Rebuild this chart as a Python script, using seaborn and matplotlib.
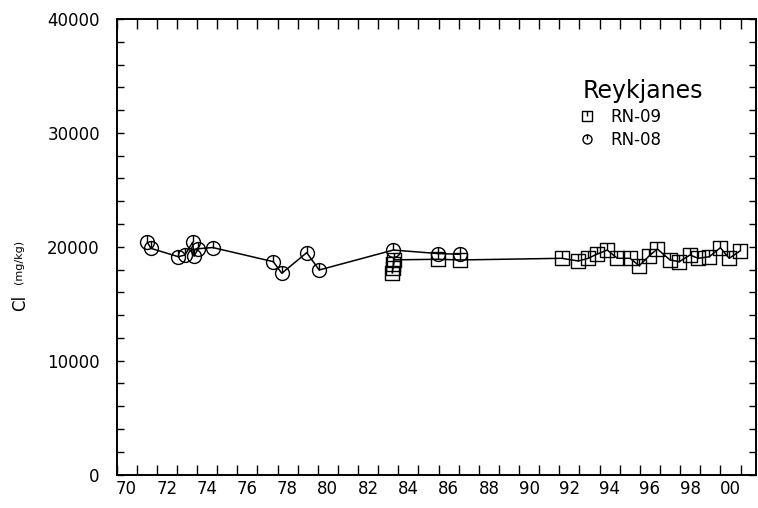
import numpy as np
import pandas as pd
import matplotlib
matplotlib.use('Agg')
import matplotlib.pyplot as plt
from matplotlib.path import Path
from matplotlib.lines import Line2D
import seaborn as sns

# Cl in geothermal fluid, Reykjanes wells
rn08_year = [1971.53, 1971.71, 1973.07, 1973.40, 1973.78, 1973.85, 1974.07, 1974.78,
             1977.79, 1978.21, 1979.45, 1980.07, 1983.75, 1985.99, 1987.06]
rn08_cl = [20390, 19860, 19125, 19275, 20390, 19190, 19830, 19930,
           18690, 17670, 19480, 17960, 19710, 19400, 19340]

rn09_year = [1983.70, 1983.73, 1983.76, 1983.79, 1985.99, 1987.06,
             1992.12, 1992.94, 1993.44, 1993.85, 1994.38, 1994.88, 1995.51, 1995.97,
             1996.47, 1996.87, 1997.50, 1997.96, 1998.49, 1998.90, 1999.45, 2000.00,
             2000.44, 2000.97]
rn09_cl = [17700, 18100, 18450, 18850, 18900, 18840,
           18985, 18750, 18985, 19340, 19710, 18985, 18985, 18335,
           19210, 19800, 18840, 18690, 19275, 18985, 19125, 19915,
           18985, 19625]

year_labels = list(range(1970, 2001, 2))
y_major = [0, 10000, 20000, 30000, 40000]

sns.set_theme(style='ticks')
plt.rcParams['font.family'] = ['DejaVu Sans']
plt.rcParams['text.color'] = 'black'
plt.rcParams['xtick.color'] = 'black'
plt.rcParams['ytick.color'] = 'black'
plt.rcParams['axes.edgecolor'] = 'black'


def stem_marker(shape):
    # open symbol with a short stroke from the top down to the centre
    if shape == 'circle':
        outline = Path.unit_circle()
    else:
        outline = Path([(-1, -1), (1, -1), (1, 1), (-1, 1), (-1, -1)],
                       [Path.MOVETO, Path.LINETO, Path.LINETO, Path.LINETO, Path.CLOSEPOLY])
    stem = Path([(0, 1), (0, 0)], [Path.MOVETO, Path.LINETO])
    return Path.make_compound_path(outline, stem)


circ = stem_marker('circle')
sq = stem_marker('square')

fig = plt.figure(figsize=(7.58, 5.08), dpi=100)
ax = fig.add_axes([116.5 / 758, 1 - 474.5 / 508, (756 - 116.5) / 758, 455.5 / 508])

df08 = pd.DataFrame({'year': rn08_year, 'cl': rn08_cl})
df09 = pd.DataFrame({'year': rn09_year, 'cl': rn09_cl})

for df, mk in ((df09, sq), (df08, circ)):
    sns.lineplot(
        data=df, x='year', y='cl',
        sort=False, estimator=None, legend=False,
        color='black', lw=1.1,
        marker=mk, markersize=10,
        markerfacecolor='none', markeredgecolor='black', markeredgewidth=1.0,
        ax=ax,
    )

ax.set_xlim(1970, 2001.77)
ax.set_ylim(0, 40000)

# year ticks, labels sit in the middle of the even years
ax.set_xticks(np.arange(1970, 2002))
ax.set_xticks([y + 0.5 for y in year_labels], minor=True)
ax.set_xticklabels(['{:02d}'.format(y % 100) for y in year_labels], minor=True)
ax.tick_params(axis='x', which='major', direction='in', length=7.5, width=1,
               top=True, bottom=True, labelbottom=False)
ax.tick_params(axis='x', which='minor', length=0, pad=4, labelsize=12)

ax.set_yticks(y_major)
ax.set_yticks(np.arange(0, 40001, 2000), minor=True)
ax.tick_params(axis='y', which='both', direction='in', length=5, width=1,
               left=True, right=True, labelsize=12, pad=12)

for s in ax.spines.values():
    s.set_linewidth(1.4)
    s.set_color('black')

ax.set_xlabel('')
ax.set_ylabel('')
ax.grid(False)

fig.text(20 / 758, 1 - 303 / 508, 'Cl', rotation=90, fontsize=12, ha='center', va='center')
fig.text(19 / 758, 1 - 262 / 508, '(mg/kg)', rotation=90, fontsize=8, ha='center', va='center')

handles = [
    Line2D([], [], ls='none', marker=sq, ms=6.5, mfc='none', mec='black', mew=1.0),
    Line2D([], [], ls='none', marker=circ, ms=6.5, mfc='none', mec='black', mew=1.0),
]
ax.legend(handles, ['RN-09', 'RN-08'], title='Reykjanes', loc='upper left',
          bbox_to_anchor=(0.705, 0.901), frameon=False, fontsize=12,
          title_fontsize=17, alignment='left', handlelength=0.6,
          handletextpad=1.1, labelspacing=0.3, borderpad=0.4)

plt.savefig('out.png', dpi=100)
